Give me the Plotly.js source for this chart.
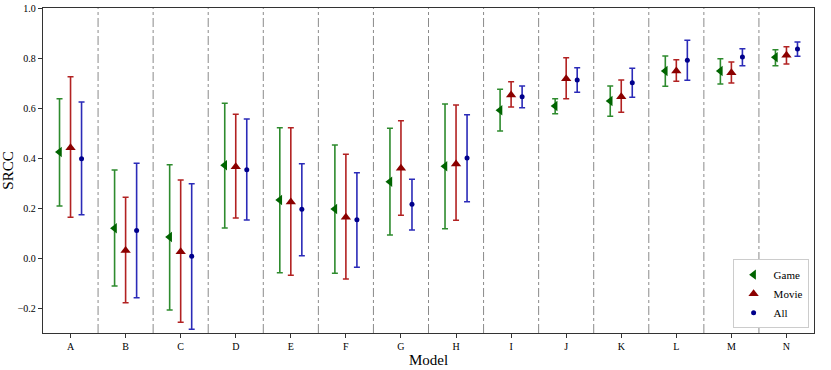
<!DOCTYPE html>
<html>
<head>
<meta charset="utf-8">
<script src="https://cdn.plot.ly/plotly-3.0.1.min.js"></script>
<style>html,body{margin:0;padding:0;background:#fff;}#chart{width:831px;height:370px;}</style>
</head>
<body>
<div id="chart"></div>
<script>
const models = ["A","B","C","D","E","F","G","H","I","J","K","L","M","N"];

const gameMean = [0.424,0.119,0.084,0.371,0.232,0.196,0.305,0.367,0.591,0.608,0.628,0.748,0.748,0.803];
const gameHigh = [0.637,0.352,0.373,0.619,0.521,0.452,0.519,0.616,0.675,0.637,0.688,0.808,0.797,0.833];
const gameLow  = [0.208,-0.112,-0.208,0.120,-0.059,-0.061,0.092,0.117,0.508,0.577,0.567,0.687,0.696,0.769];

const movieMean = [0.441,0.030,0.025,0.365,0.224,0.163,0.359,0.376,0.652,0.717,0.645,0.748,0.741,0.811];
const movieHigh = [0.725,0.243,0.312,0.575,0.521,0.415,0.549,0.612,0.705,0.801,0.712,0.793,0.784,0.845];
const movieLow  = [0.163,-0.179,-0.257,0.160,-0.069,-0.084,0.171,0.151,0.604,0.637,0.583,0.707,0.700,0.776];

const allMean = [0.397,0.110,0.007,0.353,0.195,0.153,0.215,0.400,0.645,0.712,0.701,0.791,0.804,0.836];
const allHigh = [0.624,0.379,0.297,0.556,0.377,0.341,0.315,0.573,0.688,0.761,0.759,0.871,0.837,0.864];
const allLow  = [0.173,-0.159,-0.285,0.152,0.009,-0.037,0.112,0.225,0.601,0.663,0.643,0.711,0.769,0.807];

const idx = models.map((m,i)=>i);
const off = 0.2;

function series(name, mean, hi, lo, dx, symbol, mcolor, ecolor, msize){
  return {
    type:'scatter', mode:'markers', name:name,
    x: idx.map(i=>i+dx), y: mean,
    marker:{symbol:symbol, color:mcolor, size:msize},
    error_y:{type:'data', symmetric:false,
      array: mean.map((v,i)=>hi[i]-v),
      arrayminus: mean.map((v,i)=>v-lo[i]),
      color:ecolor, thickness:1.6, width:3}
  };
}

const data = [
  series('Game', gameMean, gameHigh, gameLow, -off, 'triangle-left', '#006400', '#2e8b2e', 9),
  series('Movie', movieMean, movieHigh, movieLow, 0, 'triangle-up', '#8b0000', '#b22222', 9),
  series('All', allMean, allHigh, allLow, off, 'circle', '#00008b', '#2b2bb8', 5)
];

const shapes = idx.slice(0,-1).map(i=>({
  type:'line', xref:'x', yref:'paper', x0:i+0.5, x1:i+0.5, y0:0, y1:1,
  line:{color:'#8a8a8a', width:1, dash:'dashdot'}
}));

const serif = 'Liberation Serif, Times New Roman, serif';
const layout = {
  width:831, height:370,
  margin:{l:43, r:17, t:8, b:37},
  paper_bgcolor:'#fff', plot_bgcolor:'#fff',
  font:{family:serif, size:10, color:'#000'},
  showlegend:true,
  legend:{x:0.993, y:0.015, xanchor:'right', yanchor:'bottom',
    bordercolor:'#cccccc', borderwidth:1, bgcolor:'#fff',
    font:{family:serif, size:11}, itemwidth:30, tracegroupgap:0},
  xaxis:{range:[-0.5,13.5], tickmode:'array', tickvals:idx, ticktext:models,
    showgrid:false, zeroline:false, showline:true, mirror:true, linecolor:'#333', linewidth:1.2,
    ticks:'outside', ticklen:4, tickcolor:'#333',
    title:{text:'Model', font:{family:serif, size:15}, standoff:3}},
  yaxis:{range:[-0.3,1.0], tickvals:[-0.2,0,0.2,0.4,0.6,0.8,1.0],
    ticktext:['\u22120.2','0.0','0.2','0.4','0.6','0.8','1.0'],
    showgrid:false, zeroline:false, showline:true, mirror:true, linecolor:'#333', linewidth:1.2,
    ticks:'outside', ticklen:4, tickcolor:'#333',
    title:{text:'SRCC', font:{family:serif, size:15}, standoff:2}},
  shapes:shapes
};

Plotly.newPlot('chart', data, layout, {displayModeBar:false, staticPlot:true});
</script>
</body>
</html>
